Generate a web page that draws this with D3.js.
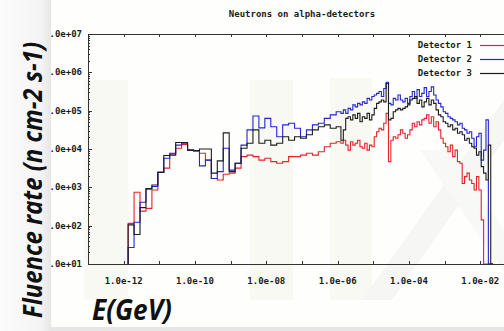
<!DOCTYPE html>
<html>
<head>
<meta charset="utf-8">
<script src="https://cdn.jsdelivr.net/npm/d3@7"></script>
<style>
  html, body { margin: 0; padding: 0; background: #fff; }
  svg { display: block; }
</style>
</head>
<body>
<svg id="chart" width="504" height="331"></svg>
<script>
// histogram bins, in log10(E/GeV)
const binStartLog = -11.875;
const coarseWidth = 1 / 6;   // first 35 bins
const coarseCount = 35;
const fineWidth = 1 / 15;    // remaining bins

// log10 of fluence rate per bin (0 = nothing, drawn down to the axis)
const det1Log = [ // red
  2.06, 2.87, 2.38, 2.45, 2.93, 3.39, 3.50, 3.87, 4.02, 4.12,
  3.97, 3.96, 3.89, 3.71, 3.23, 3.19, 3.34, 3.37, 3.50, 3.80,
  3.84, 3.80, 3.71, 3.76, 3.67, 3.63, 3.67, 3.80, 3.80, 3.84,
  3.89, 3.84, 3.93, 4.06, 4.15,
  4.19, 4.19, 4.15, 4.23, 4.10, 3.97, 4.19, 4.10, 4.15, 4.23,
  4.06, 4.02, 4.15, 3.97, 4.10, 4.06, 4.32, 4.45, 4.54, 4.50,
  4.67, 4.93, 3.67, 4.23, 4.32, 4.28, 4.37, 4.50, 4.41, 4.28,
  4.37, 4.50, 4.67, 4.58, 4.71, 4.63, 4.76, 4.80, 4.89, 4.67,
  4.84, 4.58, 4.71, 4.50, 4.28, 4.15, 4.06, 3.93, 4.10, 3.80,
  3.97, 3.67, 3.63, 3.10, 3.28, 3.37, 3.19, 3.10, 2.93, 3.28,
  2.93, 2.15, 0, 0, 0, 0
];
const det2Log = [ // blue
  1.43, 2.09, 2.61, 2.95, 3.02, 3.39, 3.76, 3.89, 4.10, 4.15,
  3.97, 3.94, 3.56, 3.71, 3.23, 3.41, 4.02, 3.45, 3.63, 4.10,
  4.50, 4.86, 4.55, 4.80, 4.58, 4.32, 4.63, 4.67, 4.54, 4.32,
  4.50, 4.63, 4.67, 4.80, 4.89,
  4.97, 4.97, 4.93, 5.02, 4.93, 5.06, 5.02, 5.15, 5.10, 5.19,
  5.15, 5.23, 5.19, 5.32, 5.28, 5.37, 5.41, 5.45, 5.50, 5.37,
  5.58, 5.74, 5.19, 5.15, 5.32, 5.28, 5.41, 5.28, 5.23, 5.32,
  5.19, 5.37, 5.50, 5.32, 5.55, 5.37, 5.45, 5.60, 5.37, 5.50,
  5.62, 5.41, 5.28, 5.19, 5.10, 4.97, 4.93, 4.84, 4.80, 4.76,
  4.71, 4.63, 4.67, 4.54, 4.50, 4.41, 4.45, 4.28, 4.06, 4.32,
  4.41, 3.71, 3.97, 4.76, 0, 0
];
const det3Log = [ // black
  2.02, 1.77, 2.47, 2.97, 3.06, 3.39, 3.83, 3.84, 4.17, 4.17,
  3.97, 3.96, 4.00, 4.00, 3.37, 3.69, 4.42, 3.41, 3.63, 4.02,
  4.15, 4.50, 4.15, 4.23, 4.10, 4.15, 4.32, 4.23, 4.32, 4.28,
  4.37, 4.50, 4.58, 4.63, 4.54,
  4.58, 4.58, 4.23, 4.50, 4.80, 4.84, 4.76, 4.89, 4.80, 4.93,
  4.71, 4.84, 4.80, 4.93, 4.76, 4.89, 5.06, 5.19, 5.23, 5.28,
  5.23, 5.71, 4.76, 4.80, 4.97, 5.02, 5.06, 5.02, 5.06, 5.10,
  5.15, 5.28, 5.32, 5.37, 5.19, 5.28, 5.10, 5.23, 5.32, 5.15,
  5.28, 5.19, 5.02, 4.89, 4.84, 4.71, 4.67, 4.58, 4.63, 4.50,
  4.54, 4.41, 4.45, 4.37, 4.23, 4.28, 4.15, 4.06, 4.02, 3.84,
  3.93, 3.54, 3.37, 3.19, 4.10, 0
];

const series = [
  { name: "Detector 1", values: det1Log, color: "#e8202a" },
  { name: "Detector 2", values: det2Log, color: "#2424d8" },
  { name: "Detector 3", values: det3Log, color: "#1c1c1c" }
];

const xTickExps = [-13, -12, -11, -10, -9, -8, -7, -6, -5, -4, -3, -2, -1];
const xLabelExps = [-12, -10, -8, -6, -4, -2];
const yTickExps = [1, 2, 3, 4, 5, 6, 7];

// plot box
const plot = { left: 88, top: 34, bottom: 264, right: 516 };

const svg = d3.select("#chart");
const mono = "'DejaVu Sans Mono', 'Liberation Mono', monospace";

const x = d3.scaleLog().domain([1e-13, 1e-1]).range([plot.left, plot.right]);
const y = d3.scaleLog().domain([1e1, 1e7]).range([plot.bottom, plot.top]).clamp(true);

// background of the slide + faint watermark
svg.append("rect").attr("width", 504).attr("height", 331).attr("fill", "#fefefd");
const wm = svg.append("g").attr("fill", "#f9f9f3");
[[84, 80, 44, 220], [250, 80, 43, 220], [330, 78, 42, 222]].forEach(r => {
  wm.append("rect").attr("x", r[0]).attr("y", r[1]).attr("width", r[2]).attr("height", r[3]);
});
svg.append("polygon")
  .attr("points", "362,300 392,300 504,140 504,100")
  .attr("fill", "#f6f6f4");
svg.append("polygon")
  .attr("points", "420,150 450,150 504,230 504,272")
  .attr("fill", "#f8f8f6");

// bin edges
const edges = [];
for (let k = 0; k <= coarseCount; k++) edges.push(binStartLog + k * coarseWidth);
const coarseEnd = edges[edges.length - 1];
for (let k = 1; k <= det1Log.length - coarseCount; k++) edges.push(coarseEnd + k * fineWidth);

svg.append("clipPath").attr("id", "clip")
  .append("rect").attr("x", plot.left).attr("y", plot.top - 2)
  .attr("width", plot.right - plot.left).attr("height", plot.bottom - plot.top + 2);

const line = d3.line().x(d => x(Math.pow(10, d[0]))).y(d => y(Math.pow(10, d[1])));

function stepPoints(vals) {
  const pts = [[edges[0], 0]];
  vals.forEach((v, i) => {
    pts.push([edges[i], v]);
    pts.push([edges[i + 1], v]);
  });
  pts.push([edges[vals.length], 0]);
  return pts;
}

const lines = svg.append("g").attr("clip-path", "url(#clip)");
series.forEach(s => {
  lines.append("path")
    .attr("d", line(stepPoints(s.values)))
    .attr("fill", "none")
    .attr("stroke", s.color)
    .attr("stroke-width", 1.1)
    .attr("stroke-linejoin", "miter");
});

// frame
const axis = svg.append("g").attr("stroke", "#333").attr("stroke-width", 1).attr("fill", "none");
axis.append("path")
  .attr("d", `M${plot.right},${plot.top + 0.5}H${plot.left + 0.5}V${plot.bottom + 0.5}H${plot.right}`);

// x ticks (bottom and top)
xTickExps.forEach(e => {
  const px = Math.round(x(Math.pow(10, e))) + 0.5;
  axis.append("line").attr("x1", px).attr("x2", px).attr("y1", plot.bottom).attr("y2", plot.bottom - 3);
  axis.append("line").attr("x1", px).attr("x2", px).attr("y1", plot.top).attr("y2", plot.top + 3);
});

// y ticks, with log minor ticks
yTickExps.forEach(e => {
  const py = Math.round(y(Math.pow(10, e))) + 0.5;
  axis.append("line").attr("x1", plot.left).attr("x2", plot.left + 4).attr("y1", py).attr("y2", py);
  if (e < 7) {
    [2, 3, 4, 5, 6, 7, 8, 9].forEach(m => {
      const my = Math.round(y(m * Math.pow(10, e))) + 0.5;
      axis.append("line").attr("x1", plot.left).attr("x2", plot.left + 2).attr("y1", my).attr("y2", my);
    });
  }
});

const labels = svg.append("g")
  .attr("font-family", mono).attr("font-size", 9).attr("font-weight", "bold").attr("fill", "#1a1a1a");

xLabelExps.forEach(e => {
  labels.append("text")
    .attr("x", x(Math.pow(10, e)))
    .attr("y", 284)
    .attr("text-anchor", "middle")
    .text("1.0e-" + String(-e).padStart(2, "0"));
});

yTickExps.forEach(e => {
  labels.append("text")
    .attr("x", 82)
    .attr("y", y(Math.pow(10, e)) + 3)
    .attr("text-anchor", "end")
    .text("1.0e+" + String(e).padStart(2, "0"));
});

// title
labels.append("text")
  .attr("x", 302).attr("y", 17)
  .attr("text-anchor", "middle")
  .text("Neutrons on alpha-detectors");

// legend
series.forEach((s, i) => {
  const ly = 45 + i * 14;
  labels.append("text")
    .attr("x", 472).attr("y", ly + 3)
    .attr("text-anchor", "end")
    .text(s.name);
  svg.append("line")
    .attr("x1", 480).attr("x2", 510)
    .attr("y1", ly + 0.5).attr("y2", ly + 0.5)
    .attr("stroke", s.color).attr("stroke-width", 1.2);
});

// slide overlay: left strip and bottom strip
const grad = svg.append("defs").append("linearGradient").attr("id", "leftGrad");
grad.append("stop").attr("offset", "0%").attr("stop-color", "#fbfbfb");
grad.append("stop").attr("offset", "80%").attr("stop-color", "#f4f4f4");
grad.append("stop").attr("offset", "100%").attr("stop-color", "#e6e6e6");
svg.append("rect").attr("x", 0).attr("y", 0).attr("width", 51).attr("height", 331).attr("fill", "url(#leftGrad)");
svg.append("rect").attr("x", 51).attr("y", 327).attr("width", 453).attr("height", 4).attr("fill", "#e6e6e6");

// slide axis titles
svg.append("text")
  .attr("transform", "translate(42,42) rotate(-90)")
  .attr("text-anchor", "end")
  .attr("font-family", "'Open Sans', 'Noto Sans', sans-serif")
  .attr("font-size", 27)
  .attr("font-weight", "bold")
  .attr("font-style", "italic")
  .attr("fill", "#111")
  .attr("textLength", 276)
  .attr("lengthAdjust", "spacingAndGlyphs")
  .text("Fluence rate (n cm-2 s-1)");

svg.append("text")
  .attr("x", 92).attr("y", 320)
  .attr("font-family", "'Open Sans', 'Noto Sans', sans-serif")
  .attr("font-size", 29)
  .attr("font-weight", "bold")
  .attr("font-style", "italic")
  .attr("fill", "#111")
  .attr("textLength", 80)
  .attr("lengthAdjust", "spacingAndGlyphs")
  .text("E(GeV)");
</script>
</body>
</html>
